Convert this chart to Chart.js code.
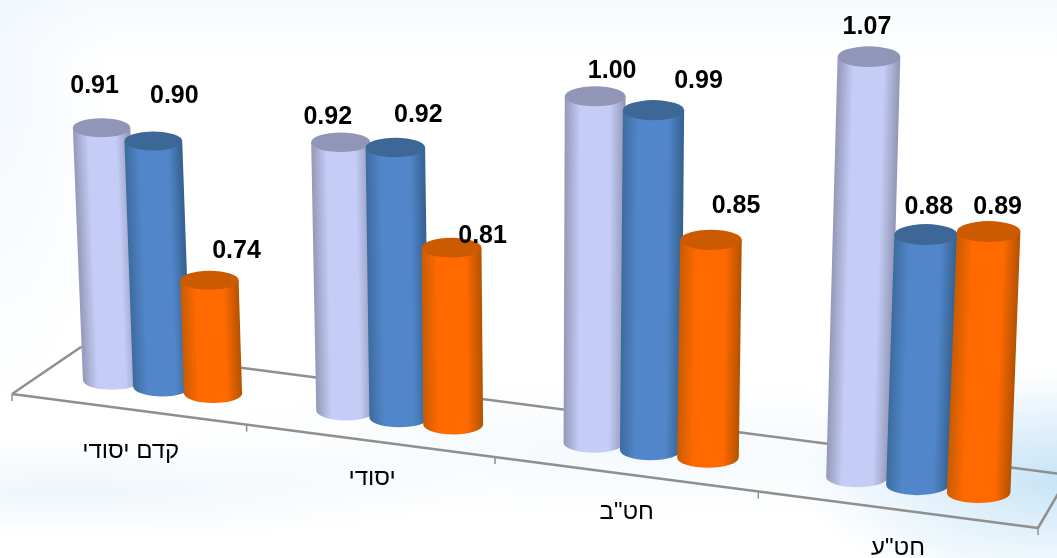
<!DOCTYPE html>
<html lang="he">
<head>
<meta charset="utf-8">
<title>chart</title>
<script src="https://cdn.jsdelivr.net/npm/chart.js@4"></script>
<style>
  html, body { margin: 0; padding: 0; width: 1057px; height: 558px; overflow: hidden; }
  body {
    background:
      radial-gradient(ellipse 260px 110px at 1057px 480px, rgba(190,224,245,.85), rgba(190,224,245,0)),
      radial-gradient(ellipse 420px 50px at 70px 490px, rgba(222,237,248,.5), rgba(222,237,248,0)),
      radial-gradient(ellipse 500px 70px at 640px 450px, rgba(230,242,250,.45), rgba(230,242,250,0)),
      radial-gradient(ellipse 110px 320px at 0px 90px, rgba(238,246,253,.7), rgba(238,246,253,0)),
      linear-gradient(180deg, #f6fafd 0, #ffffff 60px, #ffffff 558px);
  }
  canvas { position: absolute; left: 0; top: 0; }
</style>
</head>
<body>
<canvas id="grafico" width="1057" height="558"></canvas>
<script>
const categories = ['קדם יסודי', 'יסודי', 'חט"ב', 'חט"ע'];
const seriesLight = [0.91, 0.92, 1.00, 1.07];
const seriesBlue = [0.90, 0.92, 0.99, 0.88];
const seriesOrange = [0.74, 0.81, 0.85, 0.89];

// label nudges in px, hand placed in the original too
const labelShiftX = [[-7, 21, 27], [-13, 23, 31], [17, 45, 25], [-2, 3, 9]];
const labelShiftY = [[-42, -45, -29], [-25, -32, -12], [-25, -29, -34], [-30, -27, -24]];
const catShiftX = [3, 3, 2, 2];
const catShiftY = [42, 38, 38, 39];

const shades = [
  { edgeL: '#9498b8', mid: '#c5cdf7', edgeR: '#9196b4', top: '#9196b8' },
  { edgeL: '#3d6b9f', mid: '#5187ca', edgeR: '#35608f', top: '#3c6796' },
  { edgeL: '#c95c00', mid: '#ff6900', edgeR: '#b35200', top: '#cc5a00' }
];

// floor perspective: u goes 0..1 along the front edge, d 0..1 towards the back
const persp = -0.1105;
function depthScale(u) { return 1 / (1 + persp * u); }
function floorPoint(u, d) {
  const x = (911.3 * u + 12) * depthScale(u);
  const y = 394 + 0.1306 * (x - 12);
  return { x: x + d * (69 - 38 * u), y: y - d * (47 + 6 * u) };
}

function line(ctx, a, b) {
  ctx.beginPath();
  ctx.moveTo(a.x, a.y);
  ctx.lineTo(b.x, b.y);
  ctx.stroke();
}

function drawFloor(chart) {
  const ctx = chart.ctx;
  ctx.save();
  ctx.strokeStyle = '#8f8f8f';
  ctx.lineWidth = 2.5;
  line(ctx, floorPoint(0, 0), floorPoint(1, 0));
  line(ctx, floorPoint(0, 0), floorPoint(0, 1));
  line(ctx, floorPoint(0, 1), floorPoint(1, 1));
  line(ctx, floorPoint(1, 0), floorPoint(1, 1));
  ctx.lineWidth = 1.5;
  for (let i = 0; i <= categories.length; i++) {
    const p = floorPoint(i / categories.length, 0);
    line(ctx, p, { x: p.x, y: p.y + 7 });
  }
  ctx.restore();
}

function drawCylinder(ctx, base, top, rx, ry, tone) {
  const grad = ctx.createLinearGradient(base.x - rx, 0, base.x + rx, 0);
  grad.addColorStop(0, tone.edgeL);
  grad.addColorStop(0.26, tone.mid);
  grad.addColorStop(0.74, tone.mid);
  grad.addColorStop(1, tone.edgeR);
  // shear so the shading follows the lean of the cylinder
  const shear = (top.x - base.x) / (top.y - base.y);
  ctx.save();
  ctx.transform(1, 0, shear, 1, -shear * base.y, 0);
  ctx.beginPath();
  ctx.moveTo(base.x - rx, top.y);
  ctx.lineTo(base.x - rx, base.y);
  ctx.ellipse(base.x, base.y, rx, ry, 0, Math.PI, 0, true);
  ctx.lineTo(base.x + rx, top.y);
  ctx.closePath();
  ctx.fillStyle = grad;
  ctx.fill();
  ctx.restore();
  ctx.beginPath();
  ctx.ellipse(top.x, top.y, rx, ry, 0, 0, Math.PI * 2);
  ctx.fillStyle = tone.top;
  ctx.fill();
}

const cylinderPlugin = {
  id: 'cylinders',
  beforeDatasetDraw() { return false; },
  beforeDatasetsDraw(chart) { drawFloor(chart); },
  afterDatasetsDraw(chart) {
    const ctx = chart.ctx;
    const area = chart.chartArea;
    const yScale = chart.scales.y;
    const floorPx = yScale.getPixelForValue(yScale.min);
    const tops = [];
    categories.forEach((c, j) => {
      tops.push([]);
      chart.data.datasets.forEach((ds, i) => {
        const el = chart.getDatasetMeta(i).data[j];
        const u = (el.x - area.left) / area.width;
        const w = depthScale(u);
        const rx = el.width / 2 * w;
        const ry = rx * 0.33;
        const foot = floorPoint(u, 0.55);
        const base = { x: foot.x + 4 * u - 1.5, y: foot.y + 4 };
        const h = (floorPx - el.y) * w;
        const top = { x: base.x + 9e-5 * (base.x - 555) * h, y: base.y - h };
        drawCylinder(ctx, base, top, rx, ry, shades[i]);
        tops[j].push(top);
      });
    });

    ctx.save();
    ctx.textAlign = 'center';
    ctx.textBaseline = 'middle';
    ctx.fillStyle = '#000';
    ctx.font = 'bold 25px "Liberation Sans"';
    categories.forEach((c, j) => {
      chart.data.datasets.forEach((ds, i) => {
        ctx.fillText(ds.data[j].toFixed(2), tops[j][i].x + labelShiftX[j][i], tops[j][i].y + labelShiftY[j][i]);
      });
    });
    ctx.font = '24px "Liberation Sans"';
    ctx.direction = 'rtl';
    categories.forEach((c, j) => {
      const u = (chart.scales.x.getPixelForValue(j) - area.left) / area.width;
      const p = floorPoint(u, 0);
      ctx.fillText(c, p.x + catShiftX[j], p.y + catShiftY[j]);
    });
    ctx.restore();
  }
};

new Chart(document.getElementById('grafico').getContext('2d'), {
  type: 'bar',
  data: {
    labels: categories,
    datasets: [
      { label: 'סדרה 1', data: seriesLight, backgroundColor: '#c5cdf7' },
      { label: 'סדרה 2', data: seriesBlue, backgroundColor: '#5187ca' },
      { label: 'סדרה 3', data: seriesOrange, backgroundColor: '#ff6900' }
    ]
  },
  options: {
    responsive: false,
    animation: false,
    layout: { padding: { left: 12, right: 19, top: 15, bottom: 54 } },
    categoryPercentage: 0.66,
    barPercentage: 1.01,
    plugins: { legend: { display: false }, tooltip: { enabled: false } },
    scales: {
      x: { display: false },
      y: { display: false, min: 0.605, max: 1.2 }
    }
  },
  plugins: [cylinderPlugin]
});
</script>
</body>
</html>
